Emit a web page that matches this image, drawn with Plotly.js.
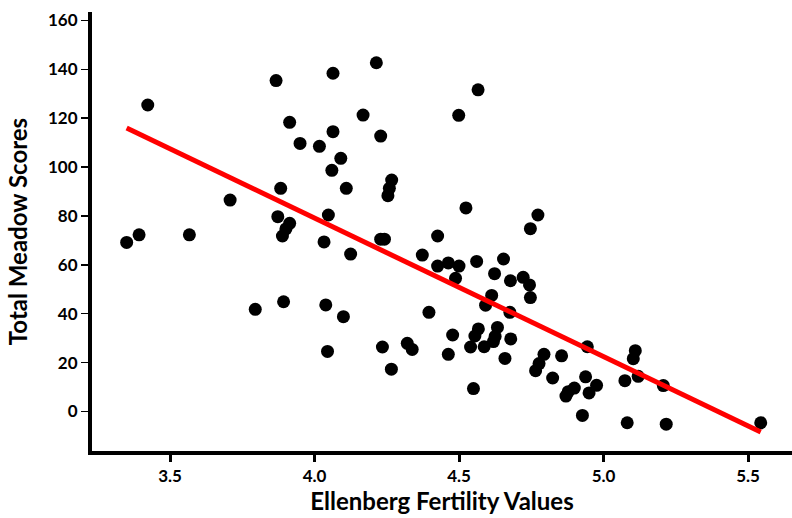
<!DOCTYPE html>
<html>
<head>
<meta charset="utf-8">
<script src="https://cdn.plot.ly/plotly-3.0.1.min.js"></script>
<style>
  html, body { margin: 0; padding: 0; background: #ffffff; }
  #chart { width: 792px; height: 518px; }
</style>
</head>
<body>
<div id="chart"></div>
<script>
// Ellenberg fertility value (x) for each meadow
const fertility = [
  3.350, 3.393, 3.423, 3.567, 3.708, 3.795, 3.867, 3.873, 3.914, 3.901,
  3.889, 3.893, 3.883, 3.914, 3.950, 4.017, 4.033, 4.039, 4.048, 4.045,
  4.064, 4.064, 4.060, 4.091, 4.110, 4.100, 4.125, 4.168, 4.214, 4.229,
  4.229, 4.242, 4.235, 4.267, 4.259, 4.254, 4.266, 4.321, 4.338, 4.373,
  4.396, 4.426, 4.426, 4.463, 4.500, 4.488, 4.478, 4.463, 4.499, 4.524,
  4.566, 4.561, 4.550, 4.567, 4.555, 4.540, 4.633, 4.625, 4.619, 4.587,
  4.654, 4.623, 4.613, 4.592, 4.676, 4.679, 4.659, 4.678, 4.722, 4.744,
  4.747, 4.747, 4.773, 4.794, 4.777, 4.765, 4.855, 4.824, 4.944, 4.938,
  4.899, 4.878, 4.870, 4.976, 4.950, 4.927, 5.110, 5.103, 5.120, 5.074,
  5.207, 5.082, 5.217, 5.544
];
// Total meadow score (y) for each meadow
const meadowScore = [
  69.2, 72.3, 125.4, 72.3, 86.5, 41.8, 135.4, 79.7, 77.0, 74.7,
  71.8, 44.9, 91.3, 118.3, 109.7, 108.5, 69.4, 43.6, 80.4, 24.6,
  138.4, 114.5, 98.7, 103.6, 91.3, 38.8, 64.4, 121.3, 142.7, 112.7,
  70.5, 70.5, 26.4, 94.7, 91.3, 88.3, 17.3, 27.9, 25.4, 64.0,
  40.6, 71.8, 59.5, 60.8, 59.5, 54.5, 31.3, 23.4, 121.2, 83.3,
  131.6, 61.4, 9.4, 33.8, 30.9, 26.4, 34.4, 30.7, 28.6, 26.5,
  62.4, 56.4, 47.5, 43.5, 40.6, 29.7, 21.7, 53.5, 54.9, 51.8,
  46.6, 74.8, 80.4, 23.4, 19.6, 16.7, 22.8, 13.7, 26.5, 14.2,
  9.6, 8.1, 6.3, 10.7, 7.6, -1.6, 24.9, 21.6, 14.4, 12.6,
  10.6, -4.6, -5.2, -4.6
];
const xTickVals = [3.5, 4.0, 4.5, 5.0, 5.5];
const xTickText = ["3.5", "4.0", "4.5", "5.0", "5.5"];
const yTickVals = [0, 20, 40, 60, 80, 100, 120, 140, 160];
const yTickText = ["0", "20", "40", "60", "80", "100", "120", "140", "160"];

// Least-squares regression line computed from the data
const n = fertility.length;
const mx = fertility.reduce((a, b) => a + b, 0) / n;
const my = meadowScore.reduce((a, b) => a + b, 0) / n;
let sxy = 0, sxx = 0;
for (let i = 0; i < n; i++) {
  sxy += (fertility[i] - mx) * (meadowScore[i] - my);
  sxx += (fertility[i] - mx) * (fertility[i] - mx);
}
const slope = sxy / sxx;
const intercept = my - slope * mx;
const xMin = Math.min(...fertility), xMax = Math.max(...fertility);
const fitX = [xMin, xMax];
const fitY = fitX.map(v => intercept + slope * v);

const fontFam = "Lato, 'Open Sans', sans-serif";

const traces = [
  {
    x: fertility, y: meadowScore, type: "scatter", mode: "markers",
    marker: { color: "#000000", size: 13 },
    hoverinfo: "skip", showlegend: false
  },
  {
    x: fitX, y: fitY, type: "scatter", mode: "lines",
    line: { color: "#ff0000", width: 5 },
    hoverinfo: "skip", showlegend: false
  }
];

const layout = {
  width: 792, height: 518,
  paper_bgcolor: "#ffffff", plot_bgcolor: "#ffffff",
  margin: { l: 92, r: 0, t: 12, b: 67, pad: 0 },
  showlegend: false,
  xaxis: {
    range: [3.2301, 5.6522],
    tickmode: "array", tickvals: xTickVals, ticktext: xTickText,
    showgrid: false, zeroline: false,
    showline: true, linecolor: "#000000", linewidth: 4,
    ticks: "outside", ticklen: 7, tickwidth: 3, tickcolor: "#000000",
    tickfont: { family: fontFam, size: 17, color: "#000000", weight: 700 },
    title: { text: "Ellenberg Fertility Values", standoff: 8,
             font: { family: fontFam, size: 24, color: "#000000", weight: 700 } }
  },
  yaxis: {
    range: [-16.16, 163.46],
    tickmode: "array", tickvals: yTickVals, ticktext: yTickText,
    showgrid: false, zeroline: false,
    showline: true, linecolor: "#000000", linewidth: 4,
    ticks: "outside", ticklen: 7, tickwidth: 1.5, tickcolor: "#000000",
    tickfont: { family: fontFam, size: 17, color: "#000000", weight: 700 },
    title: { text: "Total Meadow Scores", standoff: 15,
             font: { family: fontFam, size: 24, color: "#000000", weight: 700 } }
  }
};

Plotly.newPlot("chart", traces, layout, { staticPlot: true, displayModeBar: false });
</script>
</body>
</html>
